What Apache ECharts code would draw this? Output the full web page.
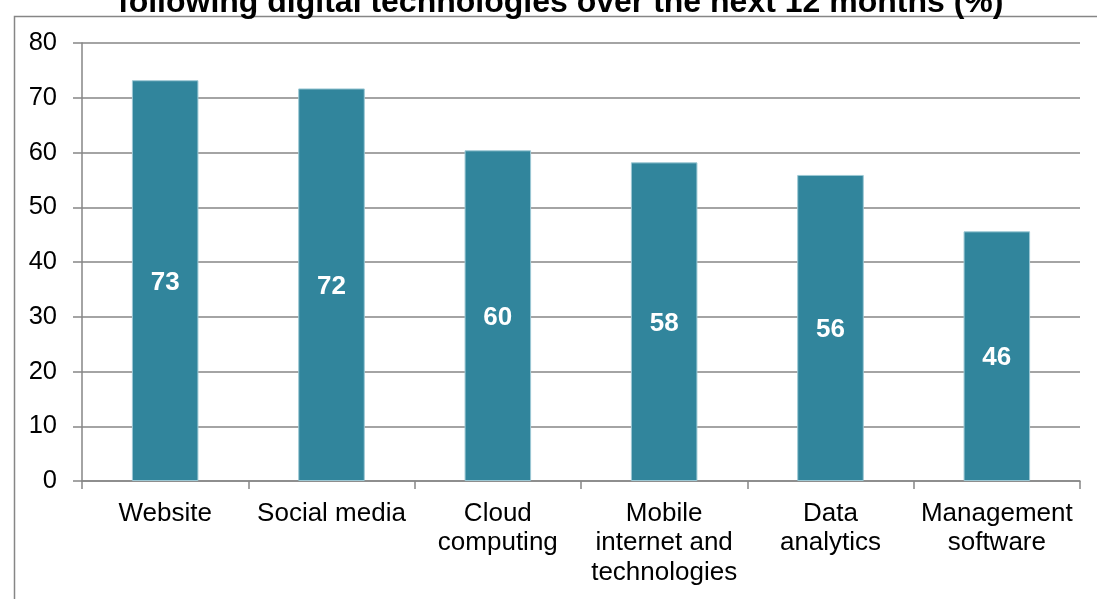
<!DOCTYPE html>
<html>
<head>
<meta charset="utf-8">
<script src="https://cdn.jsdelivr.net/npm/echarts@6/dist/echarts.min.js"></script>
<style>
html,body{margin:0;padding:0;background:#fff;}
#c{width:1097px;height:599px;}
</style>
</head>
<body>
<div id="c"></div>
<script>
var titleText = 'following digital technologies over the next 12 months (%)';
var categories = ['Website', 'Social media', 'Cloud\ncomputing', 'Mobile\ninternet and\ntechnologies', 'Data\nanalytics', 'Management\nsoftware'];
var values = [73.2, 71.7, 60.4, 58.2, 55.9, 45.6];
var yTicks = [0, 10, 20, 30, 40, 50, 60, 70, 80];

var FONT = 'Liberation Sans, Arial, sans-serif';
var chart = echarts.init(document.getElementById('c'));
chart.setOption({
  animation: false,
  backgroundColor: '#ffffff',
  graphic: [
    {
      type: 'rect', left: 12, top: 14, silent: true,
      shape: {x: 0, y: 0, width: 1200, height: 700},
      style: {fill: 'none', stroke: '#868686', lineWidth: 1.5}
    },
    {
      type: 'text', x: 118, y: 3, silent: true,
      style: {text: titleText, font: 'bold 32px ' + FONT, fill: '#000', textAlign: 'left', textVerticalAlign: 'middle'}
    }
  ],
  grid: {left: 82, right: 17, top: 43, bottom: 118, containLabel: false},
  xAxis: {
    type: 'category',
    data: categories,
    axisLine: {show: true, lineStyle: {color: '#868686', width: 1.5}},
    axisTick: {show: true, alignWithLabel: false, length: 8, lineStyle: {color: '#868686', width: 1.5}},
    axisLabel: {interval: 0, color: '#000', fontFamily: FONT, fontSize: 26, lineHeight: 29.5, margin: 18}
  },
  yAxis: {
    type: 'value',
    min: yTicks[0], max: yTicks[yTicks.length - 1], interval: 10,
    axisLine: {show: true, lineStyle: {color: '#868686', width: 1.5}},
    axisTick: {show: true, length: 9, lineStyle: {color: '#868686', width: 1.5}},
    splitLine: {show: true, lineStyle: {color: '#868686', width: 1.5}},
    axisLabel: {color: '#000', fontFamily: FONT, fontSize: 25.5, margin: 25}
  },
  series: [{
    type: 'bar',
    data: values,
    barWidth: '40%',
    itemStyle: {color: '#31859C', borderColor: '#9cc8d4', borderWidth: 1},
    label: {
      show: true, position: 'inside', offset: [0, 2], color: '#fff', fontFamily: FONT, fontWeight: 'bold', fontSize: 26,
      formatter: function (p) { return Math.round(p.value); }
    }
  }]
});
</script>
</body>
</html>
